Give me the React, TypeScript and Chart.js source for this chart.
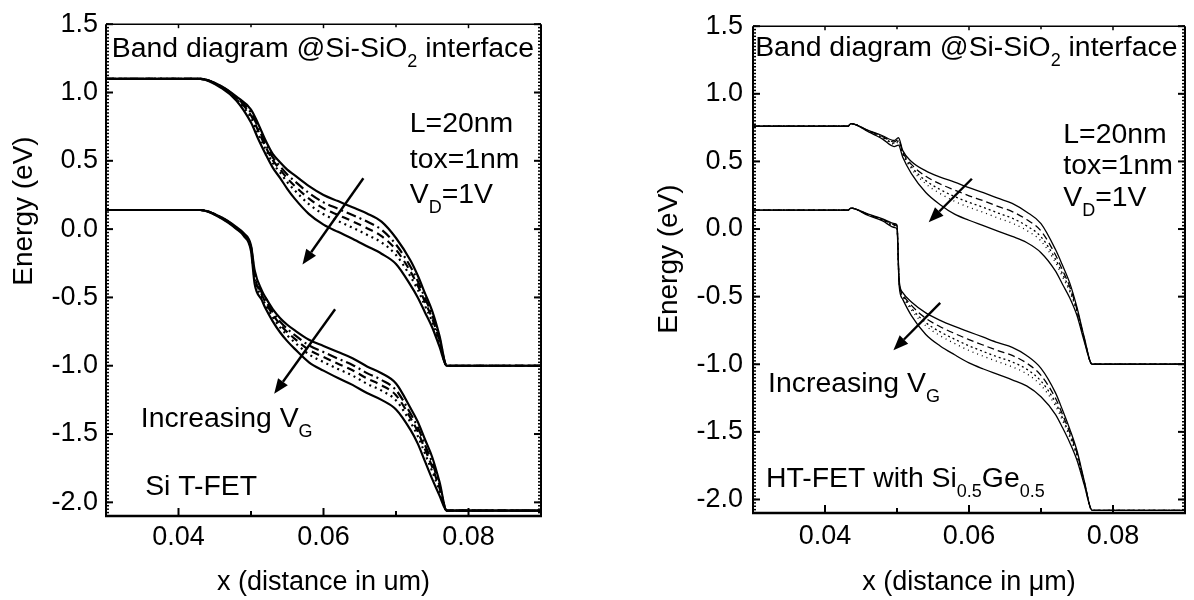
import React, { useEffect, useRef } from "react";
import { Chart, registerables } from "chart.js";

Chart.register(...registerables);

const FONT = "'Liberation Sans', Arial, Helvetica, sans-serif";

// ---------- axes ----------
const X_MIN = 0.03;
const X_MAX = 0.09;
const Y_MIN = -2.1;
const Y_MAX = 1.5;
const X_TICKS = [0.04, 0.06, 0.08];
const X_TICK_LABELS = ["0.04", "0.06", "0.08"];
const X_MINOR_TICKS = [0.05, 0.07];
const Y_TICKS = [-2.0, -1.5, -1.0, -0.5, 0.0, 0.5, 1.0, 1.5];
const Y_TICK_LABELS = ["-2.0", "-1.5", "-1.0", "-0.5", "0.0", "0.5", "1.0", "1.5"];
const Y_MINOR_STEP = 0.025;

// ---------- Si T-FET : conduction band ----------
const SI_CB_X = [0.03, 0.043, 0.046, 0.048, 0.05, 0.051, 0.052, 0.053, 0.054, 0.055, 0.056, 0.058, 0.06, 0.062, 0.064, 0.066, 0.068, 0.07, 0.072, 0.073, 0.074, 0.075, 0.076, 0.077, 0.09];
const SI_CB_1 = [1.1, 1.1, 1.045, 0.97, 0.875, 0.77, 0.65, 0.55, 0.49, 0.435, 0.395, 0.315, 0.25, 0.205, 0.16, 0.115, 0.055, -0.065, -0.23, -0.34, -0.47, -0.6, -0.78, -1.0, -1.0];
const SI_CB_2 = [1.1, 1.1, 1.041, 0.962, 0.851, 0.742, 0.625, 0.525, 0.461, 0.4, 0.352, 0.264, 0.196, 0.149, 0.103, 0.055, -0.004, -0.113, -0.275, -0.38, -0.505, -0.63, -0.8, -1.0, -1.0];
const SI_CB_3 = [1.1, 1.1, 1.038, 0.956, 0.832, 0.72, 0.605, 0.505, 0.438, 0.372, 0.318, 0.223, 0.152, 0.104, 0.057, 0.007, -0.051, -0.151, -0.311, -0.412, -0.533, -0.654, -0.816, -1.0, -1.0];
const SI_CB_4 = [1.1, 1.1, 1.035, 0.95, 0.813, 0.698, 0.585, 0.485, 0.415, 0.344, 0.285, 0.182, 0.109, 0.059, 0.011, -0.041, -0.098, -0.189, -0.347, -0.444, -0.561, -0.678, -0.832, -1.0, -1.0];
const SI_CB_5 = [1.1, 1.1, 1.03, 0.94, 0.78, 0.66, 0.55, 0.45, 0.375, 0.295, 0.225, 0.11, 0.033, -0.02, -0.07, -0.125, -0.18, -0.255, -0.41, -0.5, -0.61, -0.72, -0.86, -1.0, -1.0];

// ---------- Si T-FET : valence band ----------
const SI_VB_X = [0.03, 0.043, 0.046, 0.048, 0.049, 0.05, 0.0505, 0.0515, 0.052, 0.053, 0.054, 0.055, 0.056, 0.058, 0.06, 0.062, 0.064, 0.066, 0.068, 0.07, 0.072, 0.073, 0.074, 0.075, 0.076, 0.077, 0.09];
const SI_VB_1 = [0.14, 0.14, 0.085, 0.015, -0.03, -0.12, -0.3, -0.45, -0.5, -0.585, -0.65, -0.7, -0.74, -0.81, -0.855, -0.9, -0.945, -1.005, -1.055, -1.13, -1.31, -1.41, -1.54, -1.67, -1.85, -2.06, -2.06];
const SI_VB_2 = [0.14, 0.14, 0.0825, 0.011, -0.035, -0.13, -0.325, -0.468, -0.52, -0.608, -0.676, -0.73, -0.774, -0.851, -0.9, -0.948, -0.994, -1.054, -1.104, -1.178, -1.35, -1.45, -1.58, -1.71, -1.875, -2.06, -2.06];
const SI_VB_3 = [0.14, 0.14, 0.0805, 0.008, -0.039, -0.138, -0.345, -0.482, -0.536, -0.626, -0.697, -0.754, -0.801, -0.884, -0.936, -0.986, -1.033, -1.093, -1.143, -1.216, -1.382, -1.482, -1.612, -1.742, -1.895, -2.06, -2.06];
const SI_VB_4 = [0.14, 0.14, 0.0785, 0.005, -0.043, -0.146, -0.365, -0.496, -0.552, -0.644, -0.718, -0.778, -0.828, -0.917, -0.973, -1.024, -1.072, -1.132, -1.182, -1.254, -1.414, -1.514, -1.644, -1.774, -1.915, -2.06, -2.06];
const SI_VB_5 = [0.14, 0.14, 0.075, 0.0, -0.05, -0.16, -0.4, -0.52, -0.58, -0.675, -0.755, -0.82, -0.875, -0.975, -1.036, -1.09, -1.14, -1.2, -1.25, -1.32, -1.47, -1.57, -1.7, -1.83, -1.95, -2.06, -2.06];

// ---------- HT-FET : conduction band ----------
const HT_CB_X = [0.03, 0.0432, 0.0436, 0.046, 0.048, 0.0496, 0.0502, 0.0508, 0.052, 0.054, 0.056, 0.058, 0.06, 0.062, 0.064, 0.066, 0.068, 0.07, 0.072, 0.073, 0.074, 0.075, 0.076, 0.0771, 0.09];
const HT_CB_1 = [0.76, 0.76, 0.78, 0.73, 0.69, 0.655, 0.675, 0.58, 0.5, 0.43, 0.384, 0.347, 0.306, 0.27, 0.228, 0.19, 0.126, 0.04, -0.15, -0.27, -0.4, -0.58, -0.8, -1.0, -1.0];
const HT_CB_2 = [0.76, 0.76, 0.78, 0.7275, 0.684, 0.644, 0.661, 0.568, 0.478, 0.39, 0.333, 0.288, 0.246, 0.209, 0.167, 0.129, 0.07, -0.014, -0.19, -0.305, -0.428, -0.595, -0.808, -1.0, -1.0];
const HT_CB_3 = [0.76, 0.76, 0.78, 0.7255, 0.679, 0.635, 0.65, 0.558, 0.46, 0.358, 0.292, 0.24, 0.198, 0.16, 0.119, 0.08, 0.024, -0.057, -0.222, -0.333, -0.45, -0.607, -0.814, -1.0, -1.0];
const HT_CB_4 = [0.76, 0.76, 0.78, 0.724, 0.675, 0.628, 0.642, 0.55, 0.446, 0.334, 0.262, 0.205, 0.161, 0.123, 0.082, 0.043, -0.01, -0.089, -0.246, -0.354, -0.466, -0.616, -0.818, -1.0, -1.0];
const HT_CB_5 = [0.76, 0.76, 0.78, 0.72, 0.665, 0.61, 0.62, 0.53, 0.41, 0.27, 0.18, 0.11, 0.065, 0.025, -0.015, -0.055, -0.1, -0.175, -0.31, -0.41, -0.51, -0.64, -0.83, -1.0, -1.0];

// ---------- HT-FET : valence band ----------
const HT_VB_X = [0.03, 0.0432, 0.0436, 0.046, 0.048, 0.0497, 0.05, 0.0503, 0.0508, 0.052, 0.054, 0.056, 0.058, 0.06, 0.062, 0.064, 0.066, 0.068, 0.07, 0.072, 0.073, 0.074, 0.075, 0.076, 0.0771, 0.09];
const HT_VB_1 = [0.14, 0.14, 0.155, 0.11, 0.075, 0.04, 0.03, -0.38, -0.47, -0.54, -0.62, -0.675, -0.72, -0.76, -0.8, -0.84, -0.875, -0.935, -1.03, -1.21, -1.34, -1.48, -1.64, -1.86, -2.08, -2.08];
const HT_VB_2 = [0.14, 0.14, 0.155, 0.1075, 0.071, 0.0325, 0.0225, -0.39, -0.4825, -0.565, -0.66, -0.7225, -0.7725, -0.8175, -0.859, -0.899, -0.935, -0.991, -1.0825, -1.25, -1.3725, -1.505, -1.6575, -1.8675, -2.08, -2.08];
const HT_VB_3 = [0.14, 0.14, 0.155, 0.1055, 0.068, 0.0265, 0.0165, -0.398, -0.4925, -0.585, -0.692, -0.7605, -0.8145, -0.8635, -0.906, -0.946, -0.983, -1.036, -1.1245, -1.282, -1.3985, -1.525, -1.6715, -1.8735, -2.08, -2.08];
const HT_VB_4 = [0.14, 0.14, 0.155, 0.104, 0.066, 0.022, 0.012, -0.404, -0.5, -0.6, -0.716, -0.789, -0.846, -0.898, -0.941, -0.981, -1.019, -1.07, -1.156, -1.306, -1.418, -1.54, -1.682, -1.878, -2.08, -2.08];
const HT_VB_5 = [0.14, 0.14, 0.155, 0.1, 0.06, 0.01, 0.0, -0.42, -0.52, -0.64, -0.78, -0.865, -0.93, -0.99, -1.035, -1.075, -1.115, -1.16, -1.24, -1.37, -1.47, -1.58, -1.71, -1.89, -2.08, -2.08];

// ---------- arrows (start x, start y, end x, end y) ----------
const SI_ARROW_CB = [0.0655, 0.372, 0.0571, -0.259];
const SI_ARROW_VB = [0.0616, -0.587, 0.0532, -1.206];
const HT_ARROW_CB = [0.0604, 0.372, 0.0544, 0.051];
const HT_ARROW_VB = [0.056, -0.546, 0.0495, -0.896];

// ---------- line styles ----------
const SI_DASHES = [[], [10, 4, 2, 4], [8, 5], [2, 4], []];
const HT_DASHES = [[], [7, 4], [2, 3], [1, 4], []];

type Run = [string, boolean?];
type Note = { x: number; y: number; runs: Run[] };

const SI_NOTES: Note[] = [
  { x: 0.0308, y: 1.26, runs: [["Band diagram @Si-SiO"], ["2", true], [" interface"]] },
  { x: 0.0719, y: 0.713, runs: [["L=20nm"]] },
  { x: 0.0719, y: 0.445, runs: [["tox=1nm"]] },
  { x: 0.0719, y: 0.19, runs: [["V"], ["D", true], ["=1V"]] },
  { x: 0.0348, y: -1.45, runs: [["Increasing V"], ["G", true]] },
  { x: 0.0354, y: -1.947, runs: [["Si T-FET"]] },
];

const HT_NOTES: Note[] = [
  { x: 0.0303, y: 1.283, runs: [["Band diagram @Si-SiO"], ["2", true], [" interface"]] },
  { x: 0.0731, y: 0.638, runs: [["L=20nm"]] },
  { x: 0.0731, y: 0.404, runs: [["tox=1nm"]] },
  { x: 0.0731, y: 0.174, runs: [["V"], ["D", true], ["=1V"]] },
  { x: 0.0321, y: -1.205, runs: [["Increasing V"], ["G", true]] },
  { x: 0.0318, y: -1.906, runs: [["HT-FET with Si"], ["0.5", true], ["Ge"], ["0.5", true]] },
];

function makeDatasets(xs: number[], series: number[][], dashes: number[][], width: number) {
  return series.map((ys, i) => ({
    data: xs.map((x, j) => ({ x, y: ys[j] })),
    borderColor: "#000",
    borderWidth: width,
    borderDash: dashes[i],
    pointRadius: 0,
    fill: false,
    cubicInterpolationMode: "monotone" as const,
  }));
}

type PanelCfg = {
  datasets: any[];
  notes: Note[];
  arrows: number[][];
  xTitle: string;
  padding: { left: number; right: number; top: number; bottom: number };
  xAxisHeight: number;
  yAxisWidth: number;
  xTickPad: number;
  yTickPad: number;
  yTitleX: number;
  yTitleY: number;
};

function decorPlugin(cfg: PanelCfg) {
  return {
    id: "decor",
    afterDatasetsDraw(chart: any) {
      const { ctx, chartArea: a, scales } = chart;
      const xs = scales.x;
      const ys = scales.y;
      const line = (x1: number, y1: number, x2: number, y2: number) => {
        ctx.beginPath();
        ctx.moveTo(x1, y1);
        ctx.lineTo(x2, y2);
        ctx.stroke();
      };
      ctx.save();
      ctx.strokeStyle = "#000";
      ctx.fillStyle = "#000";
      ctx.setLineDash([]);
      ctx.lineCap = "butt";

      // minor y ticks (both sides, inward)
      ctx.lineWidth = 1.5;
      for (let v = Y_MIN; v <= Y_MAX + 1e-9; v += Y_MINOR_STEP) {
        const py = ys.getPixelForValue(v);
        line(a.left, py, a.left + 3, py);
        line(a.right, py, a.right - 3, py);
      }
      // major y ticks
      ctx.lineWidth = 2;
      for (const v of Y_TICKS) {
        const py = ys.getPixelForValue(v);
        line(a.left, py, a.left + 7, py);
        line(a.right, py, a.right - 7, py);
      }
      // x ticks
      for (const v of X_TICKS) {
        const px = xs.getPixelForValue(v);
        ctx.lineWidth = 2;
        line(px, a.bottom, px, a.bottom - 8);
        ctx.lineWidth = 1.5;
        line(px, a.top, px, a.top + 4);
      }
      for (const v of X_MINOR_TICKS) {
        const px = xs.getPixelForValue(v);
        ctx.lineWidth = 2;
        line(px, a.bottom, px, a.bottom - 5);
        ctx.lineWidth = 1.5;
        line(px, a.top, px, a.top + 3);
      }
      // frame
      ctx.lineWidth = 1.5;
      line(a.left, a.top, a.right, a.top);
      ctx.lineWidth = 2;
      line(a.left, a.top, a.left, a.bottom);
      line(a.right, a.top, a.right, a.bottom);
      ctx.lineWidth = 2.5;
      line(a.left - 1, a.bottom, a.right + 1, a.bottom);

      // arrows
      for (const [x0, y0, x1, y1] of cfg.arrows) {
        const p0x = xs.getPixelForValue(x0);
        const p0y = ys.getPixelForValue(y0);
        const p1x = xs.getPixelForValue(x1);
        const p1y = ys.getPixelForValue(y1);
        const ang = Math.atan2(p1y - p0y, p1x - p0x);
        const head = 15;
        const half = 6;
        const bx = p1x - head * Math.cos(ang);
        const by = p1y - head * Math.sin(ang);
        ctx.lineWidth = 2.4;
        line(p0x, p0y, bx, by);
        ctx.beginPath();
        ctx.moveTo(p1x, p1y);
        ctx.lineTo(bx + half * Math.sin(ang), by - half * Math.cos(ang));
        ctx.lineTo(bx - half * Math.sin(ang), by + half * Math.cos(ang));
        ctx.closePath();
        ctx.fill();
      }

      // notes
      ctx.textAlign = "left";
      ctx.textBaseline = "alphabetic";
      for (const n of cfg.notes) {
        let cx = xs.getPixelForValue(n.x);
        const cy = ys.getPixelForValue(n.y);
        for (const [t, sub] of n.runs) {
          ctx.font = `${sub ? 18 : 28.4}px ${FONT}`;
          ctx.fillText(t, cx, sub ? cy + 10 : cy);
          cx += ctx.measureText(t).width;
        }
      }

      // y axis title
      ctx.save();
      ctx.translate(cfg.yTitleX, cfg.yTitleY);
      ctx.rotate(-Math.PI / 2);
      ctx.textAlign = "center";
      ctx.textBaseline = "middle";
      ctx.font = `28px ${FONT}`;
      ctx.fillText("Energy (eV)", 0, 0);
      ctx.restore();

      ctx.restore();
    },
  };
}

function Panel({ left, width, cfg }: { left: number; width: number; cfg: PanelCfg }) {
  const ref = useRef<HTMLCanvasElement>(null);
  useEffect(() => {
    const chart = new Chart(ref.current as HTMLCanvasElement, {
      type: "line",
      data: { datasets: cfg.datasets },
      options: {
        animation: false,
        responsive: false,
        devicePixelRatio: 1,
        layout: { padding: cfg.padding },
        plugins: {
          legend: { display: false },
          tooltip: { enabled: false },
          title: { display: false },
        },
        scales: {
          x: {
            type: "linear",
            min: X_MIN,
            max: X_MAX,
            afterBuildTicks: (s: any) => {
              s.ticks = X_TICKS.map((v) => ({ value: v }));
            },
            afterFit: (s: any) => {
              s.height = cfg.xAxisHeight;
            },
            grid: { display: false, drawTicks: false },
            border: { display: false },
            ticks: {
              callback: (_v: any, i: number) => X_TICK_LABELS[i],
              font: { family: FONT, size: 27 },
              color: "#000",
              padding: cfg.xTickPad,
              maxRotation: 0,
              autoSkip: false,
            },
            title: {
              display: true,
              text: cfg.xTitle,
              font: { family: FONT, size: 27 },
              color: "#000",
              padding: { top: 0, bottom: 1 },
            },
          },
          y: {
            type: "linear",
            min: Y_MIN,
            max: Y_MAX,
            afterBuildTicks: (s: any) => {
              s.ticks = Y_TICKS.map((v) => ({ value: v }));
            },
            afterFit: (s: any) => {
              s.width = cfg.yAxisWidth;
            },
            grid: { display: false, drawTicks: false },
            border: { display: false },
            ticks: {
              callback: (_v: any, i: number) => Y_TICK_LABELS[i],
              font: { family: FONT, size: 27 },
              color: "#000",
              padding: cfg.yTickPad,
              autoSkip: false,
            },
          },
        },
      } as any,
      plugins: [decorPlugin(cfg)],
    });
    return () => chart.destroy();
  }, []);
  return (
    <canvas
      ref={ref}
      width={width}
      height={600}
      style={{ position: "absolute", left, top: 0, width, height: 600, display: "block" }}
    />
  );
}

const siCfg: PanelCfg = {
  datasets: [
    ...makeDatasets(SI_CB_X, [SI_CB_1, SI_CB_2, SI_CB_3, SI_CB_4, SI_CB_5], SI_DASHES, 2.2),
    ...makeDatasets(SI_VB_X, [SI_VB_1, SI_VB_2, SI_VB_3, SI_VB_4, SI_VB_5], SI_DASHES, 2.2),
  ],
  notes: SI_NOTES,
  arrows: [SI_ARROW_CB, SI_ARROW_VB],
  xTitle: "x (distance in um)",
  padding: { left: 0, right: 19, top: 22, bottom: 0 },
  xAxisHeight: 84,
  yAxisWidth: 106,
  xTickPad: 5,
  yTickPad: 8,
  yTitleX: 24,
  yTitleY: 211,
};

const htCfg: PanelCfg = {
  datasets: [
    ...makeDatasets(HT_CB_X, [HT_CB_1, HT_CB_2, HT_CB_3, HT_CB_4, HT_CB_5], HT_DASHES, 1.3),
    ...makeDatasets(HT_VB_X, [HT_VB_1, HT_VB_2, HT_VB_3, HT_VB_4, HT_VB_5], HT_DASHES, 1.3),
  ],
  notes: HT_NOTES,
  arrows: [HT_ARROW_CB, HT_ARROW_VB],
  xTitle: "x (distance in \u03bcm)",
  padding: { left: 0, right: 9, top: 16, bottom: 0 },
  xAxisHeight: 87,
  yAxisWidth: 106,
  xTickPad: 7,
  yTickPad: 10,
  yTitleX: 22,
  yTitleY: 259,
};

export default function App() {
  return (
    <div style={{ position: "fixed", left: 0, top: 0, width: 1194, height: 600, background: "#fff" }}>
      <Panel left={0} width={560} cfg={siCfg} />
      <Panel left={647} width={547} cfg={htCfg} />
    </div>
  );
}
